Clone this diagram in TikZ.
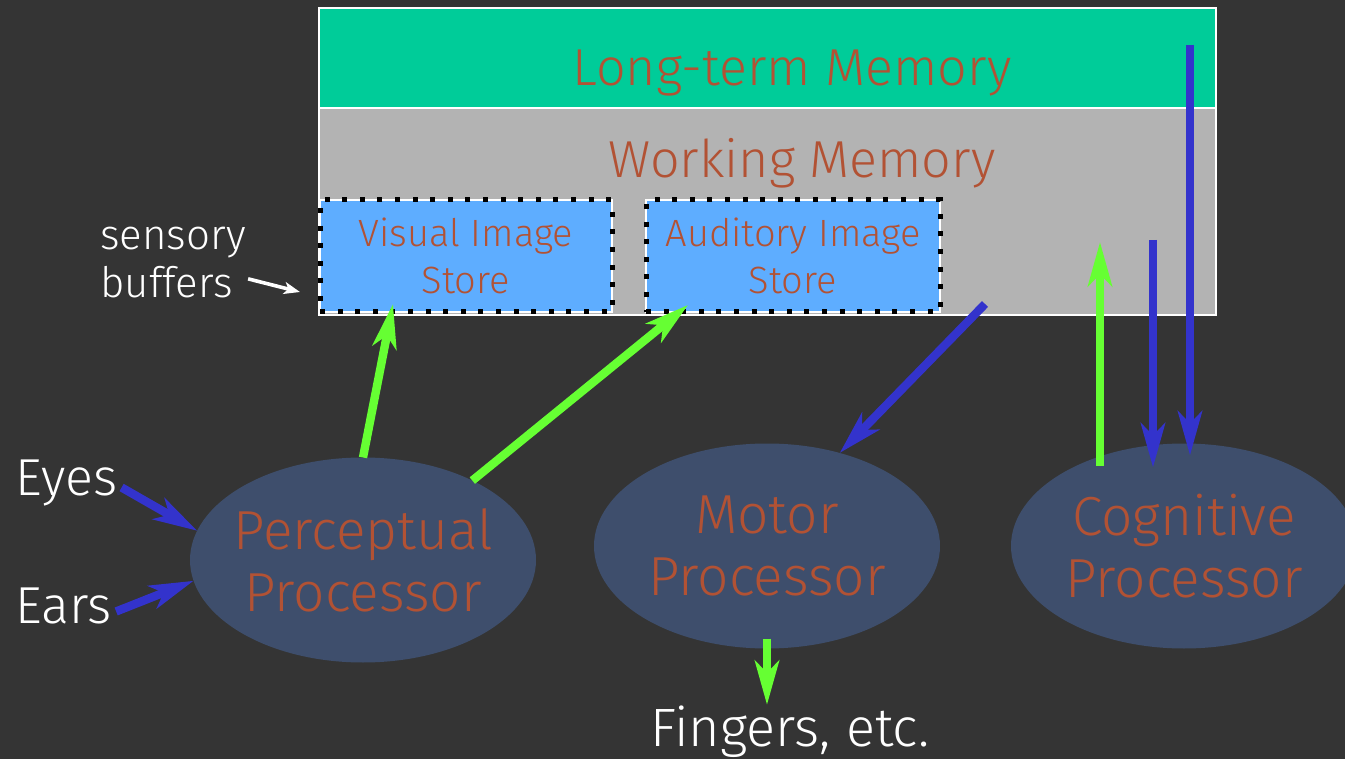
\documentclass[tikz,border=0pt]{standalone}
\usepackage{fontspec}
\setmainfont{Fira Sans}[UprightFont={* Light}]
\usetikzlibrary{arrows.meta,calc,shapes.geometric}

\definecolor{backdrop}{RGB}{52,52,52}
\definecolor{ltmgreen}{RGB}{0,204,153}
\definecolor{wmgray}{RGB}{179,179,179}
\definecolor{storeblue}{RGB}{94,173,255}
\definecolor{procblue}{RGB}{62,78,108}
\definecolor{rust}{RGB}{178,82,52}
\definecolor{flowgreen}{RGB}{102,255,51}
\definecolor{flowblue}{RGB}{51,51,204}

\begin{document}
\begin{tikzpicture}[x=0.5pt, y=-0.5pt,
  mem box/.style    = { draw=white, line width=1pt, inner sep=0pt, outer sep=0pt,
                        minimum width=448.5pt, anchor=north west },
  title text/.style = { text=rust, inner sep=0pt, anchor=base,
                        font=\fontsize{26}{31}\selectfont },
  store/.style      = { fill=storeblue, draw=white, line width=1pt,
                        minimum height=56pt, inner sep=0pt, outer sep=0pt,
                        anchor=north west, align=center, text=rust,
                        font=\fontsize{19}{23.5}\selectfont,
                        postaction={draw=black, line width=2.5pt,
                                    dash pattern=on 2.5pt off 6.3pt} },
  proc/.style       = { ellipse, fill=procblue,
                        inner xsep=-20pt, inner ysep=0pt, outer sep=0pt,
                        minimum width=173pt, minimum height=102.5pt,
                        align=center, text=rust,
                        font=\fontsize{27.5}{31}\selectfont },
  side text/.style  = { text=white, inner sep=0pt,
                        font=\fontsize{26}{30}\selectfont },
  flow/.style       = { line width=4.2pt,
                        -{Stealth[length=22pt, width=12pt, inset=6pt]} },
  pointer/.style    = { draw=white, line width=1.8pt,
                        -{Stealth[length=8pt, width=6pt, inset=2pt]} }]

  % backdrop, fixes the page size as well
  \useasboundingbox (0,0) rectangle (1345,759);
  \fill [backdrop] (0,0) rectangle (1345,759);

  % memories
  \node (ltm) [mem box, fill=ltmgreen, minimum height=50pt] at (319,8) {};
  \node (wm)  [mem box, fill=wmgray, minimum height=103.5pt] at (319,108) {};
  \node (ltm-title) [title text] at (792,86)  {Long-term Memory};
  \node (wm-title)  [title text] at (802,178) {Working Memory};

  % sensory buffers
  \node (vis) [store, minimum width=146pt] at (320,200) {Visual Image\\Store};
  \node (aud) [store, minimum width=147pt] at (646,200) {Auditory Image\\Store};

  % processors
  \node (perc)  [proc] at (363,560)  {Perceptual\\Processor};
  \node (motor) [proc] at (767,546)  {Motor\\Processor};
  \node (cog)   [proc] at (1184,546) {Cognitive\\Processor};

  % outside world
  \node (eyes) [side text, anchor=base west] at (15,495) {Eyes};
  \node (ears) [side text, anchor=base west] at (15,623) {Ears};
  \node (fingers) [side text, anchor=base, font=\fontsize{27}{31}\selectfont]
    at (790,746) {Fingers, etc.};
  \node (buffers) [side text, anchor=north west, align=left,
                   font=\fontsize{21}{24}\selectfont]
    at (100,227) {sensory\\buffers};

  % flows
  \draw [flow, flowgreen] (perc.north) -- ($(vis.south west)+(73,-8)$);
  \draw [flow, flowgreen] (perc.36) -- ($(aud.south west)+(42,-7)$);
  \draw [flow, flowblue] ($(aud.south east)+(45,-8)$) -- (motor.52);
  \draw [flow, flowgreen] ($(cog.north)+(-84,22)$) -- ($(wm.south east)+(-116,-73)$);
  \draw [flow, flowblue] ($(wm.south east)+(-63,-75)$) -- ($(cog.north)+(-31,24)$);
  \draw [flow, flowblue] ($(ltm.north east)+(-26,37)$) -- ($(cog.north)+(6,12)$);
  \draw [flow, flowgreen] ($(motor.south)+(0,-10)$) -- (fingers.north -| motor.south);
  \draw [flow, flowblue] ($(eyes.east)+(4,5)$) -- (perc.170);
  \draw [flow, flowblue] ($(ears.east)+(4,6)$) -- (perc.187);
  \draw [pointer] ($(buffers.east)+(2,16)$) -- ($(vis.south west)+(-20,-20)$);
\end{tikzpicture}
\end{document}
